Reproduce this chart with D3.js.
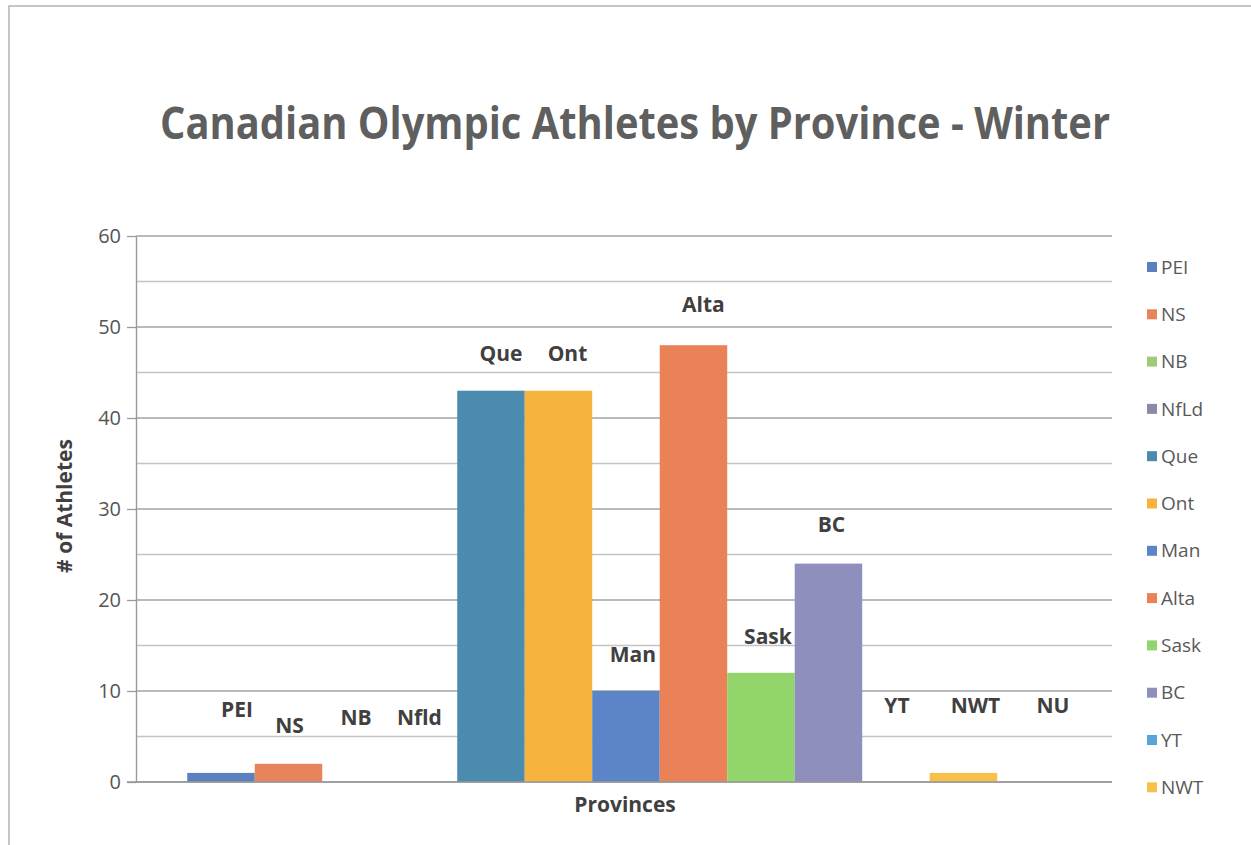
<!DOCTYPE html>
<html>
<head>
<meta charset="utf-8">
<script src="https://cdn.jsdelivr.net/npm/d3@7"></script>
<style>
  html, body { margin: 0; padding: 0; background: #ffffff; }
  svg { display: block; }
  text { font-family: "Open Sans", "Noto Sans", sans-serif; }
</style>
</head>
<body>
<svg id="chart" width="1251" height="845"></svg>
<script>
// Provinces and territories, one series each
const categories = ["PEI", "NS", "NB", "NfLd", "Que", "Ont", "Man", "Alta", "Sask", "BC", "YT", "NWT", "NU"];
// Number of winter Olympic athletes per province
const athletes = [1, 2, 0, 0, 43, 43, 10, 48, 12, 24, 0, 1, 0];
// Category names written beside the bars
const barLabels = ["PEI", "NS", "NB", "Nfld", "Que", "Ont", "Man", "Alta", "Sask", "BC", "YT", "NWT", "NU"];
// Where each bar label was dragged to: height in axis units, sideways nudge in px
const labelLevel = [7.1, 5.4, 6.3, 6.3, 46.3, 46.3, 13.2, 51.6, 15.2, 27.5, 7.6, 7.6, 7.6];
const labelNudge = [16, 1, 0, -4, 10, 9, 7, 10, 7, 3, 1, 12, 22];
// Series colours
const seriesColors = ["#5a80c0", "#e8845c", "#9dcb76", "#8a8aa8", "#4b8bb0", "#f6b43f",
                      "#5b85c6", "#ea8157", "#92d56a", "#8f8fbe", "#5aa5d8", "#f7c04a", "#d98c8c"];
// Axis ticks
const yTicks = [0, 10, 20, 30, 40, 50, 60];
const yMinorTicks = [5, 15, 25, 35, 45, 55];
// Legend entries that fit in the chart frame
const legendItems = categories.slice(0, 12);

const svg = d3.select("#chart");

const plot = { left: 136, right: 1112, top: 236, bottom: 782 };

const x = d3.scaleBand()
  .domain(categories)
  .range([plot.left, plot.right])
  .paddingInner(0)
  .paddingOuter(0.73)
  .align(0.52);

const y = d3.scaleLinear()
  .domain([0, 60])
  .range([plot.bottom, plot.top]);

const color = d3.scaleOrdinal().domain(categories).range(seriesColors);

// Chart frame
svg.append("path")
  .attr("d", "M9,845 V6 H1251")
  .attr("fill", "none")
  .attr("stroke", "#b4b4b4")
  .attr("stroke-width", 1.5);

// Title
svg.append("text")
  .attr("x", 635)
  .attr("y", 139)
  .attr("text-anchor", "middle")
  .attr("font-size", 44)
  .attr("font-weight", 700)
  .attr("fill", "#5f5f5f")
  .attr("textLength", 950)
  .attr("lengthAdjust", "spacingAndGlyphs")
  .text("Canadian Olympic Athletes by Province - Winter");

// Minor gridlines
svg.append("g")
  .selectAll("line")
  .data(yMinorTicks)
  .join("line")
  .attr("x1", plot.left)
  .attr("x2", plot.right)
  .attr("y1", d => y(d))
  .attr("y2", d => y(d))
  .attr("stroke", "#c4c4c4")
  .attr("stroke-width", 1.3);

// Major gridlines
svg.append("g")
  .selectAll("line")
  .data(yTicks)
  .join("line")
  .attr("x1", plot.left)
  .attr("x2", plot.right)
  .attr("y1", d => y(d))
  .attr("y2", d => y(d))
  .attr("stroke", "#a2a2a2")
  .attr("stroke-width", 1.4);

// Y axis
const yAxis = svg.append("g")
  .attr("transform", `translate(${plot.left},0)`)
  .call(d3.axisLeft(y).tickValues(yTicks).tickSize(9).tickSizeOuter(0).tickPadding(6));
yAxis.select(".domain").attr("stroke", "#999999").attr("stroke-width", 1.4);
yAxis.selectAll(".tick line").attr("stroke", "#999999").attr("stroke-width", 1.3);
yAxis.selectAll(".tick text")
  .attr("font-size", 20)
  .attr("fill", "#555555")
  .style("font-family", "'Open Sans', sans-serif");

// Bars
svg.append("g")
  .selectAll("rect")
  .data(categories)
  .join("rect")
  .attr("x", d => x(d))
  .attr("width", x.bandwidth())
  .attr("y", (d, i) => y(athletes[i]))
  .attr("height", (d, i) => y(0) - y(athletes[i]))
  .attr("fill", d => color(d));

// X baseline over the bars
svg.append("line")
  .attr("x1", plot.left - 9)
  .attr("x2", plot.right)
  .attr("y1", y(0))
  .attr("y2", y(0))
  .attr("stroke", "#999999")
  .attr("stroke-width", 1.4);

// Bar labels
svg.append("g")
  .selectAll("text")
  .data(categories)
  .join("text")
  .attr("x", (d, i) => x(d) + x.bandwidth() / 2 + labelNudge[i])
  .attr("y", (d, i) => y(labelLevel[i]))
  .attr("text-anchor", "middle")
  .attr("font-size", 21)
  .attr("font-weight", 700)
  .attr("fill", "#404040")
  .text((d, i) => barLabels[i]);

// Axis titles
svg.append("text")
  .attr("x", 625)
  .attr("y", 812)
  .attr("text-anchor", "middle")
  .attr("font-size", 21)
  .attr("font-weight", 700)
  .attr("fill", "#404040")
  .text("Provinces");

svg.append("text")
  .attr("transform", "translate(72,506) rotate(-90)")
  .attr("text-anchor", "middle")
  .attr("font-size", 21)
  .attr("font-weight", 700)
  .attr("fill", "#404040")
  .text("# of Athletes");

// Legend
const legend = svg.append("g")
  .selectAll("g")
  .data(legendItems)
  .join("g")
  .attr("transform", (d, i) => `translate(1147,${267 + i * 47.3})`);

legend.append("rect")
  .attr("x", 0)
  .attr("y", -5)
  .attr("width", 10)
  .attr("height", 10)
  .attr("fill", d => color(d));

legend.append("text")
  .attr("x", 14)
  .attr("y", 0)
  .attr("dy", "0.35em")
  .attr("font-size", 19)
  .attr("fill", "#595959")
  .text(d => d);
</script>
</body>
</html>
